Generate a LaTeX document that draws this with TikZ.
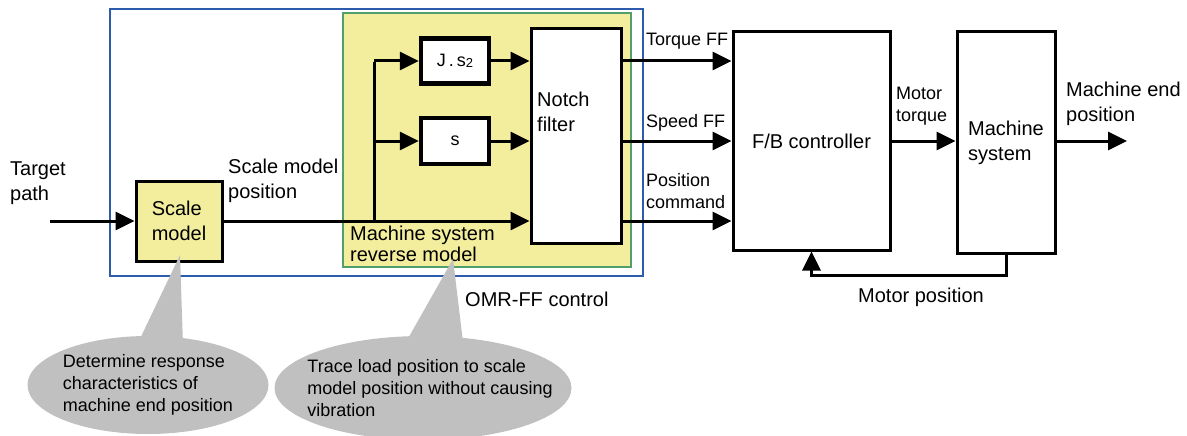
\documentclass[tikz,border=0pt]{standalone}
\usepackage{fontspec}
\setmainfont{Liberation Sans}
\usetikzlibrary{arrows.meta,shapes.geometric}
\definecolor{boxyellow}{RGB}{243,238,158}
\definecolor{boxgreen}{RGB}{80,160,110}
\definecolor{omrblue}{RGB}{46,92,172}
\definecolor{callgray}{RGB}{192,192,192}
\tikzset{
  mainfont/.style={font=\fontsize{20}{25}\selectfont},
  smallfont/.style={font=\fontsize{18}{22}\selectfont},
  lbl/.style={mainfont, align=left, inner sep=0pt, anchor=north west},
  slbl/.style={smallfont, align=left, inner sep=0pt, anchor=north west},
  blk/.style={draw, line width=3pt, inner sep=0pt, align=left, mainfont},
  tfblk/.style={draw, line width=4.5pt, fill=white, inner sep=0pt, smallfont},
  wire/.style={line width=3pt},
  sig/.style={line width=3pt, -{Triangle[length=19pt,width=18pt]}},
  callout/.style={ellipse, fill=callgray, draw=none, inner sep=0pt},
}
\begin{document}
\begin{tikzpicture}[x=1pt,y=-1pt]
\useasboundingbox (0,0) rectangle (1187,436);

% frames
\node[draw=omrblue, line width=2.5pt, minimum width=533pt, minimum height=267pt, inner sep=0pt] (omr) at (376.5,142.5) {};
\node[draw=boxgreen, fill=boxyellow, line width=2.5pt, minimum width=288pt, minimum height=254pt, inner sep=0pt] (rev) at (487,140) {};

% blocks
\node[blk, fill=boxyellow, minimum width=86pt, minimum height=80pt] (scale) at (179,221) {Scale\\model};
\node[tfblk, minimum width=68pt, minimum height=45pt] (js) at (455,61) {J\,.\,s\raisebox{-1pt}{\fontsize{13}{13}\selectfont 2}};
\node[tfblk, minimum width=68pt, minimum height=46pt] (s) at (455,141) {s};
\node[blk, fill=white, minimum width=90pt, minimum height=214pt] (notch) at (576,136) {};
\node[lbl] (notchtxt) at (537,92) {Notch\\filter};
\node[blk, fill=white, minimum width=157pt, minimum height=218pt] (fb) at (811.5,141) {F/B controller};
\node[blk, fill=white, minimum width=98pt, minimum height=221pt] (ms) at (1006,142.5) {Machine\\system};

% labels
\node[lbl] (tp) at (10,162) {Target\\path};
\node[lbl] (smp) at (228,159) {Scale model\\position};
\node[lbl, font=\fontsize{20}{21}\selectfont] (rm) at (350,226) {Machine system\\reverse model};
\node[slbl] (tff) at (646,33) {Torque FF};
\node[slbl] (sff) at (646,114) {Speed FF};
\node[slbl] (pc) at (646,173) {Position\\command};
\node[slbl] (mt) at (896,87) {Motor\\torque};
\node[lbl] (mep) at (1066,82) {Machine end\\position};
\node[lbl] (omrl) at (465,292) {OMR-FF control};
\node[lbl] (mpos) at (858,288) {Motor position};

% connectors
\coordinate (tin) at (50,221);
\draw[sig] (tin) -- (scale.west);
\draw[sig] (scale.east) -- (scale.east -| notch.west);
\coordinate (br) at (374,221);
\coordinate (brtop) at (374,61);
\coordinate (brmid) at (374,141);
\draw[wire] (br) -- ([yshift=-1.5pt]brtop);
\draw[sig] (brtop) -- (js.west);
\draw[sig] (brmid) -- (s.west);
\draw[sig] (js.east) -- (js.east -| notch.west);
\draw[sig] (s.east) -- (s.east -| notch.west);
\draw[sig] (notch.east |- js.east) -- (fb.west |- js.east);
\draw[sig] (notch.east |- s.east) -- (fb.west |- s.east);
\draw[sig] (notch.east |- scale.east) -- (fb.west |- scale.east);
\draw[sig] (fb.east |- s.east) -- (ms.west |- s.east);
\coordinate (out) at (1127,141);
\draw[sig] (ms.east |- out) -- (out);
\draw[sig] (ms.south) -- ++(0,21) -| (fb.south);

% callouts
\fill[callgray] (180,255) -- (137,345) -- (183,345) -- cycle;
\fill[callgray] (453,259) -- (406,342) -- (463,342) -- cycle;
\node[callout, minimum width=241pt, minimum height=98pt] (c1) at (148,385) {};
\node[callout, minimum width=297pt, minimum height=104pt] (c2) at (423,388) {};
\node[smallfont, align=left, inner sep=0pt] (c1t) at (c1.center) {Determine response\\characteristics of\\machine end position};
\node[smallfont, align=left, inner sep=0pt] (c2t) at (430,388) {Trace load position to scale\\model position without causing\\vibration};
\end{tikzpicture}
\end{document}
